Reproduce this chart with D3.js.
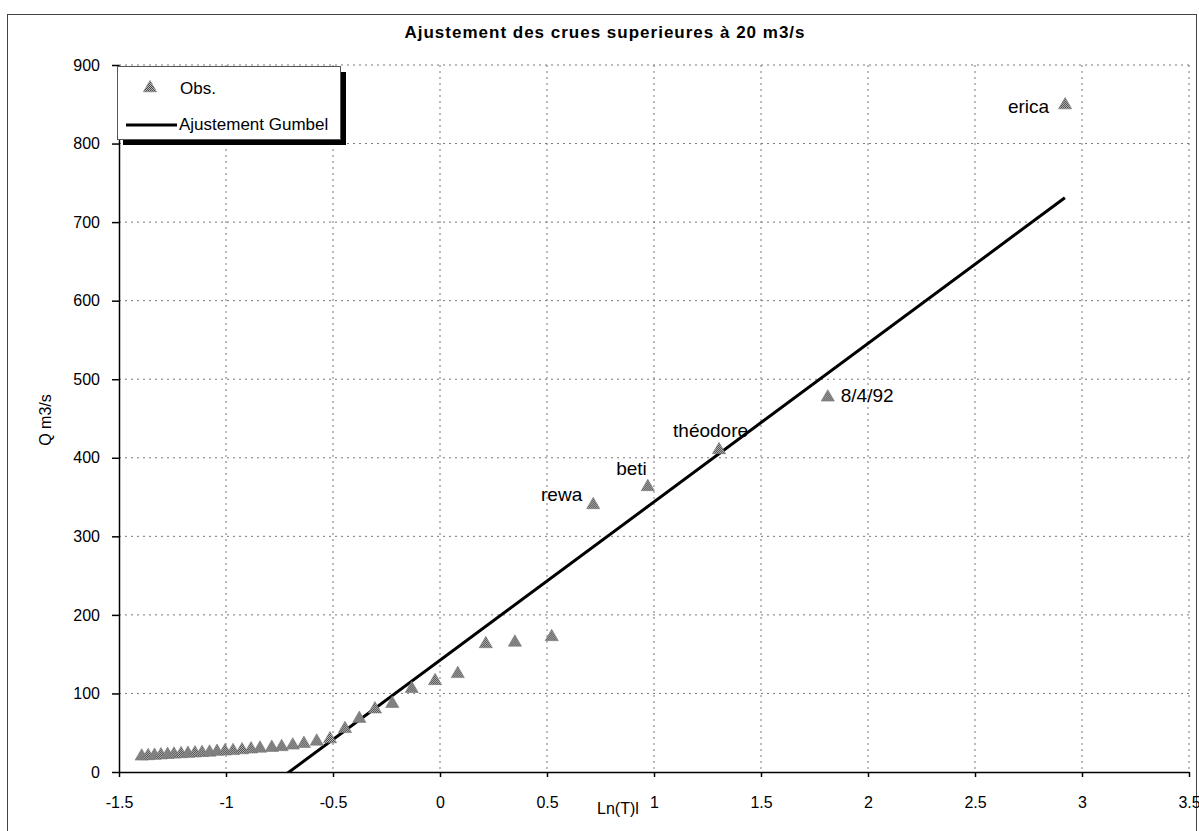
<!DOCTYPE html>
<html>
<head>
<meta charset="utf-8">
<script src="https://cdn.jsdelivr.net/npm/d3@7"></script>
<style>
  body { margin: 0; background: #fff; }
  text { font-family: "Liberation Sans", Arial, sans-serif; fill: #000; }
  .grid line { stroke: #777; stroke-width: 1; stroke-dasharray: 2,4; }
  .axis path, .axis line { stroke: #000; stroke-width: 1.5; }
  .axis text { font-size: 16px; }
  .note { font-size: 19px; }
</style>
</head>
<body>
<svg id="chart-svg" width="1199" height="831"></svg>
<script>
////////////////////////////////////////////////////////////////////////////////
// data
var obsX = [-1.394, -1.364, -1.334, -1.304, -1.273, -1.243, -1.210, -1.178, -1.145, -1.112,
            -1.077, -1.042, -1.005, -0.967, -0.925, -0.883, -0.841, -0.786, -0.740, -0.688,
            -0.636, -0.576, -0.514, -0.444, -0.377, -0.304, -0.223, -0.132, -0.023, 0.083,
            0.214, 0.350, 0.522, 0.716, 0.971, 1.304, 1.812, 2.921];
var obsQ = [20, 20.5, 21, 21.5, 22, 22.5, 23, 23.5, 24, 24.5,
            25, 26, 26.5, 27, 28, 29, 30, 31, 32, 34,
            36, 39, 42, 55, 68, 80, 87, 106, 116, 125,
            163, 165, 172, 340, 363, 410, 477, 849];
var obsNames = {33: "rewa", 34: "beti", 35: "théodore", 36: "8/4/92", 37: "erica"};
var fitX = [-0.72, 2.92];
var fitQ = [-3, 731];
var xTicks = [-1.5, -1, -0.5, 0, 0.5, 1, 1.5, 2, 2.5, 3, 3.5];
var yTicks = [0, 100, 200, 300, 400, 500, 600, 700, 800, 900];
var title = "Ajustement des crues superieures à 20 m3/s";

////////////////////////////////////////////////////////////////////////////////
const svg = d3.select("#chart-svg");
var pLeft = 119, pRight = 1189, pTop = 65, pBottom = 772;

var x = d3.scaleLinear().domain([-1.5, 3.5]).range([pLeft, pRight]);
var y = d3.scaleLinear().domain([0, 900]).range([pBottom, pTop]);

// outer frame
svg.append("rect")
   .attr("x", 7.5).attr("y", 14.5).attr("width", 1189).attr("height", 830)
   .attr("fill", "none").attr("stroke", "#444").attr("stroke-width", 1);

// hatched fill for the markers
var defs = svg.append("defs");
var pat = defs.append("pattern")
   .attr("id", "hatch").attr("width", 2).attr("height", 2)
   .attr("patternUnits", "userSpaceOnUse");
pat.append("rect").attr("width", 2).attr("height", 2).attr("fill", "#bdbdbd");
pat.append("rect").attr("width", 1).attr("height", 1).attr("fill", "#444");
pat.append("rect").attr("x", 1).attr("y", 1).attr("width", 1).attr("height", 1).attr("fill", "#444");

defs.append("clipPath").attr("id", "plotClip")
   .append("rect").attr("x", pLeft).attr("y", pTop)
   .attr("width", pRight - pLeft).attr("height", pBottom - pTop);

// grid
svg.append("g").attr("class", "grid")
   .selectAll("line").data(yTicks.slice(1)).enter().append("line")
   .attr("x1", pLeft).attr("x2", pRight)
   .attr("y1", function(d) { return y(d); }).attr("y2", function(d) { return y(d); });
svg.append("g").attr("class", "grid")
   .selectAll("line").data(xTicks.slice(1)).enter().append("line")
   .attr("y1", pTop).attr("y2", pBottom)
   .attr("x1", function(d) { return x(d); }).attr("x2", function(d) { return x(d); });

// axes
svg.append("g").attr("class", "axis")
   .attr("transform", "translate(0," + pBottom + ")")
   .call(d3.axisBottom(x).tickValues(xTicks).tickSize(5).tickSizeOuter(0).tickPadding(20)
           .tickFormat(function(d) { return String(d); }));
svg.append("g").attr("class", "axis")
   .attr("transform", "translate(" + pLeft + ",0)")
   .call(d3.axisLeft(y).tickValues(yTicks).tickSize(7).tickSizeOuter(0).tickPadding(12)
           .tickFormat(function(d) { return String(d); }));

// fitted line
svg.append("path")
   .datum(d3.zip(fitX, fitQ))
   .attr("clip-path", "url(#plotClip)")
   .attr("fill", "none").attr("stroke", "#000").attr("stroke-width", 3)
   .attr("d", d3.line().x(function(d) { return x(d[0]); }).y(function(d) { return y(d[1]); }));

// observations
var tri = d3.symbol().type(d3.symbolTriangle).size(75);
svg.append("g").selectAll("path")
   .data(d3.zip(obsX, obsQ)).enter().append("path")
   .attr("d", tri)
   .attr("transform", function(d) { return "translate(" + x(d[0]) + "," + y(d[1]) + ")"; })
   .attr("fill", "url(#hatch)").attr("stroke", "#777").attr("stroke-width", 0.6);

// storm names next to the big floods
var noteOffset = {
  "rewa": [-11, -4, "end"], "beti": [-1, -12, "end"], "théodore": [-46, -13, "start"],
  "8/4/92": [13, 5, "start"], "erica": [-16, 8, "end"]
};
svg.append("g").selectAll("text")
   .data(Object.keys(obsNames)).enter().append("text")
   .attr("class", "note")
   .attr("x", function(i) { return x(obsX[i]) + noteOffset[obsNames[i]][0]; })
   .attr("y", function(i) { return y(obsQ[i]) + noteOffset[obsNames[i]][1]; })
   .attr("text-anchor", function(i) { return noteOffset[obsNames[i]][2]; })
   .text(function(i) { return obsNames[i]; });

// titles
svg.append("text")
   .attr("x", 605).attr("y", 38).attr("text-anchor", "middle")
   .style("font-size", "17px").style("font-weight", "bold").style("letter-spacing", "1px")
   .text(title);
svg.append("text")
   .attr("transform", "translate(51,420) rotate(-90)").attr("text-anchor", "middle")
   .style("font-size", "16px")
   .text("Q m3/s");
svg.append("text")
   .attr("x", 597).attr("y", 814)
   .style("font-size", "16px")
   .text("Ln(T)l");

// legend
var lg = svg.append("g");
lg.append("rect").attr("x", 123).attr("y", 72).attr("width", 223).attr("height", 73).attr("fill", "#000");
lg.append("rect").attr("x", 117.5).attr("y", 66.5).attr("width", 223).attr("height", 73)
  .attr("fill", "#fff").attr("stroke", "#555").attr("stroke-width", 1);
lg.append("path").attr("d", tri)
  .attr("transform", "translate(150,88)")
  .attr("fill", "url(#hatch)").attr("stroke", "#777").attr("stroke-width", 0.6);
lg.append("text").attr("x", 180).attr("y", 94).style("font-size", "17px").text("Obs.");
lg.append("line").attr("x1", 126).attr("x2", 177).attr("y1", 125).attr("y2", 125)
  .attr("stroke", "#000").attr("stroke-width", 3);
lg.append("text").attr("x", 179).attr("y", 130).style("font-size", "17px").text("Ajustement Gumbel");
</script>
</body>
</html>
